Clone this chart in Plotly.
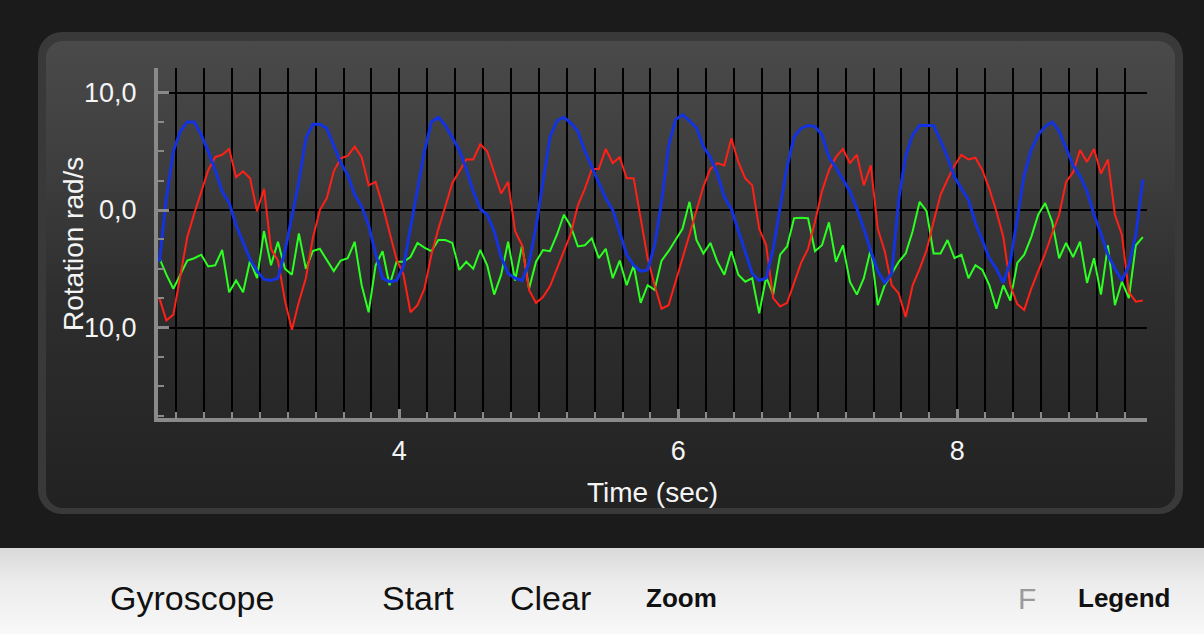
import base64
import plotly.graph_objects as go

# ---------------- data ----------------
T_START = 2.28          # s, first sample
SAMPLE_DT = 0.05        # s, sample interval

rot_z_blue = [
    -4.4, 1.0, 5.0, 6.7, 7.5, 7.5, 6.4, 5.0, 3.4, 1.6,
    0.6, -1.3, -2.75, -4.2, -5.2, -5.9, -6.0, -5.8, -3.5, -0.7,
    2.4, 6.1, 7.3, 7.3, 6.95, 5.5, 4.0, 3.0, 1.3, 0.3,
    -1.3, -3.7, -5.8, -6.1, -6.0, -4.8, -1.6, 1.6, 5.0, 7.5,
    7.9, 7.2, 6.1, 5.1, 3.5, 1.6, 0.1, -0.4, -1.8, -4.0,
    -5.4, -5.8, -6.0, -4.5, -1.4, 2.4, 6.2, 7.6, 7.9, 7.4,
    6.7, 5.0, 3.7, 2.3, 1.0, 0.0, -1.8, -3.8, -4.7, -5.2,
    -5.1, -3.0, 0.7, 5.4, 7.7, 8.1, 7.6, 7.0, 5.4, 4.5,
    3.1, 1.1, 0.1, -1.7, -3.7, -5.4, -6.0, -5.8, -3.3, 0.1,
    3.7, 6.2, 6.95, 7.2, 7.1, 6.4, 4.5, 3.6, 2.55, 1.6,
    0.1, -1.6, -3.5, -5.2, -6.2, -5.4, 0.9, 4.6, 6.4, 7.2,
    7.2, 7.2, 5.9, 4.5, 2.8, 1.8, 0.85, -1.1, -2.55, -4.1,
    -5.0, -6.2, -4.4, -0.85, 3.0, 5.1, 6.4, 7.1, 7.5, 6.7,
    5.25, 3.8, 2.9, 1.6, -0.4, -2.0, -3.8, -5.0, -6.0, -4.7,
    -2.1, 2.6,
]

rot_x_red = [
    -7.5, -9.4, -8.9, -5.7, -2.3, -0.3, 1.6, 3.4, 4.5, 4.7,
    5.2, 2.8, 3.3, 2.7, -0.1, 1.8, -3.3, -4.3, -7.7, -10.2,
    -7.8, -5.8, -2.4, 0.0, 1.0, 3.3, 4.4, 4.6, 5.4, 4.5,
    2.1, 2.4, 0.4, -1.8, -4.2, -5.5, -8.7, -8.1, -6.7, -3.8,
    -1.6, 0.3, 2.3, 3.3, 4.3, 4.3, 5.6, 5.0, 3.1, 1.4,
    2.4, -1.8, -3.0, -6.8, -7.9, -7.4, -6.5, -5.0, -3.4, -2.0,
    0.4, 1.8, 3.5, 3.5, 5.2, 4.0, 4.5, 2.7, 2.7, -0.7,
    -4.1, -6.4, -8.4, -8.1, -6.2, -4.1, -2.1, -0.1, 2.0, 3.5,
    4.0, 3.8, 6.1, 4.1, 2.7, 2.1, -1.6, -3.0, -7.5, -8.2,
    -7.9, -6.2, -4.5, -3.3, -1.0, 1.6, 3.4, 4.5, 5.2, 4.0,
    4.7, 2.1, 3.8, -1.6, -3.5, -6.4, -7.1, -9.1, -6.4, -5.0,
    -3.4, -1.0, 1.3, 2.6, 3.8, 4.7, 4.3, 4.45, 3.4, 1.8,
    -0.1, -2.3, -6.4, -8.0, -8.5, -6.7, -5.25, -3.7, -2.0, -0.4,
    2.4, 3.2, 5.1, 4.1, 5.2, 3.1, 4.3, -0.4, -2.1, -7.0,
    -7.8, -7.7,
]

rot_y_green = [
    -4.1, -5.5, -6.7, -5.5, -4.3, -4.1, -3.8, -4.8, -4.7, -3.4,
    -7.0, -6.0, -7.0, -4.3, -5.8, -1.8, -4.7, -2.7, -5.0, -5.5,
    -2.0, -5.0, -3.5, -3.3, -4.3, -5.2, -4.3, -4.1, -2.7, -6.4,
    -8.7, -4.7, -3.5, -6.4, -4.4, -4.4, -4.0, -2.8, -3.2, -3.5,
    -2.55, -2.55, -2.8, -5.1, -4.4, -5.0, -3.4, -4.7, -7.2, -5.5,
    -2.7, -6.0, -3.0, -6.7, -4.4, -3.4, -3.5, -2.1, -0.4, -1.4,
    -3.1, -3.0, -2.4, -4.1, -3.3, -5.8, -4.3, -6.4, -4.7, -7.9,
    -6.4, -6.8, -4.3, -3.5, -2.55, -1.6, 0.7, -2.55, -3.7, -2.8,
    -4.4, -5.5, -3.5, -5.5, -6.1, -5.8, -8.8, -5.7, -7.2, -3.8,
    -3.1, -0.7, -0.65, -0.7, -3.5, -3.0, -1.05, -4.4, -3.0, -6.1,
    -7.2, -5.8, -3.3, -8.1, -6.4, -5.4, -4.4, -3.7, -1.8, 0.7,
    -0.1, -3.7, -3.7, -2.55, -4.1, -3.8, -5.8, -4.7, -5.1, -6.4,
    -8.4, -6.4, -7.7, -4.5, -3.8, -2.3, -0.4, 0.6, -1.0, -4.1,
    -2.8, -4.0, -2.7, -6.2, -4.1, -7.2, -3.0, -8.1, -6.1, -7.5,
    -3.0, -2.3,
]

time_s = [round(T_START + i * SAMPLE_DT, 3) for i in range(len(rot_z_blue))]

X_RANGE = [2.27, 9.36]
Y_RANGE = [-17.70, 12.09]
Y_TICKS = [-10, 0, 10]

bottom_buttons = ["Gyroscope", "Start", "Clear", "Zoom", "F", "Legend"]

# ---------------- page geometry ----------------
W, H = 1204, 634
ML, MR, MT, MB = 158, 57, 68, 216
PW, PH = W - ML - MR, H - MT - MB

def px_x(px):
    return (px - ML) / PW

def px_y(py):
    return (H - MB - py) / PH

FONT = "Liberation Sans, Arial, Helvetica, sans-serif"
AXIS_GRAY = "#8a8a8a"

# background: dark page, rounded gradient panel, light bottom bar
svg = f"""<svg xmlns="http://www.w3.org/2000/svg" width="{W}" height="{H}" viewBox="0 0 {W} {H}">
<defs>
<linearGradient id="p" x1="0" y1="0" x2="0" y2="1">
<stop offset="0" stop-color="#4a4a4a"/>
<stop offset="0.25" stop-color="#3f3f3f"/>
<stop offset="0.55" stop-color="#2e2e2e"/>
<stop offset="1" stop-color="#222222"/>
</linearGradient>
<linearGradient id="b" x1="0" y1="0" x2="0" y2="1">
<stop offset="0" stop-color="#d9d9d9"/>
<stop offset="0.4" stop-color="#ececec"/>
<stop offset="1" stop-color="#f8f8f8"/>
</linearGradient>
</defs>
<rect width="{W}" height="{H}" fill="#1b1b1b"/>
<rect x="38" y="32" width="1145" height="482" rx="24" fill="#393939"/>
<rect x="46" y="41" width="1129" height="467" rx="17" fill="url(#p)"/>
<rect x="0" y="548" width="{W}" height="{H-548}" fill="url(#b)"/>
</svg>"""
bg_uri = "data:image/svg+xml;base64," + base64.b64encode(svg.encode()).decode()

fig = go.Figure()
fig.add_trace(go.Scatter(x=time_s, y=rot_y_green, mode="lines",
                         line=dict(color="#2cff22", width=2), name="y"))
fig.add_trace(go.Scatter(x=time_s, y=rot_x_red, mode="lines",
                         line=dict(color="#ff2018", width=2), name="x"))
fig.add_trace(go.Scatter(x=time_s, y=rot_z_blue, mode="lines",
                         line=dict(color="#1433e0", width=3), name="z"))

tickfont = dict(family=FONT, size=27, color="#f4f4f4")

fig.update_layout(
    width=W, height=H,
    margin=dict(l=ML, r=MR, t=MT, b=MB, pad=0),
    paper_bgcolor="#1b1b1b",
    plot_bgcolor="rgba(0,0,0,0)",
    separators=",.",
    showlegend=False,
    font=dict(family=FONT, color="#f4f4f4"),
    images=[dict(source=bg_uri, xref="paper", yref="paper",
                 x=px_x(0), y=px_y(0), sizex=W / PW, sizey=H / PH,
                 xanchor="left", yanchor="top", sizing="stretch", layer="below")],
    xaxis=dict(
        range=X_RANGE, showline=True, linecolor=AXIS_GRAY, linewidth=4,
        tick0=0, dtick=2, ticks="inside", ticklen=9, tickwidth=3, tickcolor=AXIS_GRAY,
        showgrid=True, gridcolor="#000000", gridwidth=2, zeroline=False,
        minor=dict(tick0=0, dtick=0.2, ticks="inside", ticklen=6, tickwidth=2,
                   tickcolor=AXIS_GRAY, showgrid=True, gridcolor="#000000", gridwidth=2),
        tickfont=tickfont, ticklabelstandoff=6,
        title=dict(text="Time (sec)", font=dict(family=FONT, size=28, color="#f4f4f4"), standoff=18),
    ),
    yaxis=dict(
        range=Y_RANGE, showline=True, linecolor=AXIS_GRAY, linewidth=4,
        tickvals=Y_TICKS, tickformat=".1f",
        ticks="inside", ticklen=11, tickwidth=3, tickcolor=AXIS_GRAY,
        showgrid=True, gridcolor="#000000", gridwidth=2, zeroline=False,
        minor=dict(tick0=0, dtick=2.5, ticks="inside", ticklen=6, tickwidth=2,
                   tickcolor=AXIS_GRAY, showgrid=False),
        tickfont=tickfont, ticklabelstandoff=12,
    ),
    xaxis2=dict(
        range=X_RANGE, overlaying="x", anchor="y", side="bottom", showline=False,
        tick0=0, dtick=2, ticks="outside", ticklen=9, tickwidth=3, tickcolor=AXIS_GRAY,
        minor=dict(tick0=0, dtick=0.2, ticks="outside", ticklen=6, tickwidth=2,
                   tickcolor=AXIS_GRAY, showgrid=False),
        showticklabels=False, showgrid=False, zeroline=False,
    ),
    yaxis2=dict(
        range=Y_RANGE, overlaying="y", anchor="x", side="left", showline=False,
        tickvals=Y_TICKS, ticks="outside", ticklen=8, tickwidth=3, tickcolor=AXIS_GRAY,
        minor=dict(tick0=0, dtick=2.5, ticks="outside", ticklen=5, tickwidth=2,
                   tickcolor=AXIS_GRAY, showgrid=False),
        showticklabels=False, showgrid=False, zeroline=False,
    ),
)

annotations = [
    dict(text="Rotation rad/s", xref="paper", yref="paper", x=px_x(73), y=px_y(244),
         xanchor="center", yanchor="middle", textangle=-90, showarrow=False,
         font=dict(family=FONT, size=28, color="#f4f4f4")),
]
btn_pos = [192, 418, 550, 681, 1027, 1124]
btn_style = [
    dict(size=34, color="#111111"), dict(size=34, color="#111111"),
    dict(size=34, color="#111111"), dict(size=26, color="#111111", weight="bold"),
    dict(size=30, color="#9a9a9a"), dict(size=26, color="#111111", weight="bold"),
]
for label, px, st in zip(bottom_buttons, btn_pos, btn_style):
    annotations.append(dict(text=label, xref="paper", yref="paper", x=px_x(px), y=px_y(598),
                            xanchor="center", yanchor="middle", showarrow=False,
                            font=dict(family=FONT, **st)))
fig.update_layout(annotations=annotations)

fig.write_html("out.html", config={"displayModeBar": False},
               post_script="document.body.style.margin='0';document.body.style.overflow='hidden';")
